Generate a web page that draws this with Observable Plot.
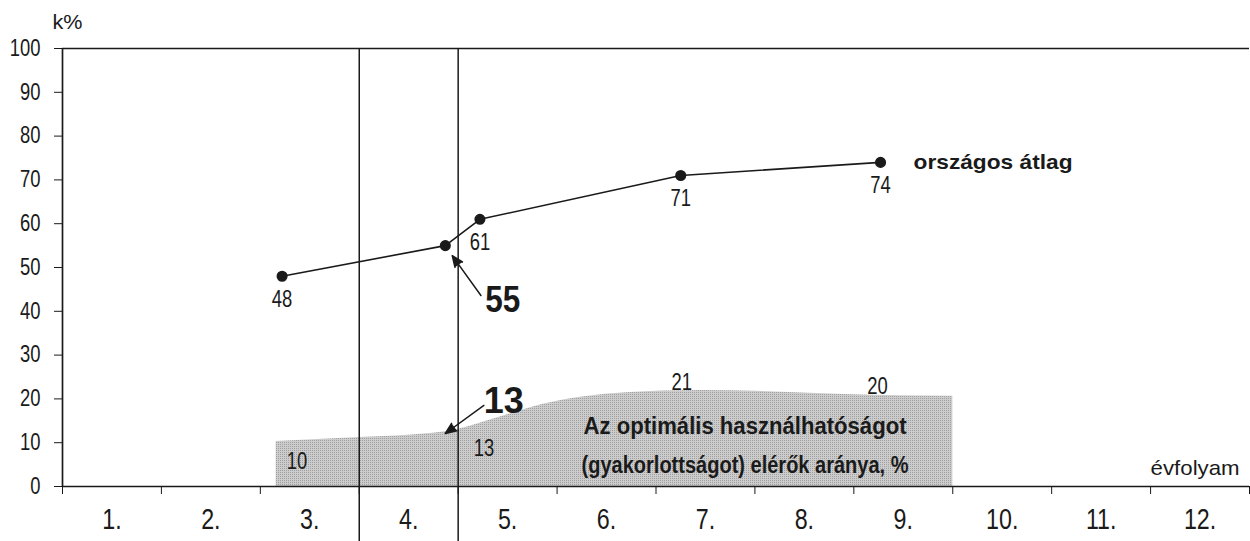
<!DOCTYPE html>
<html><head><meta charset="utf-8">
<script src="https://cdn.jsdelivr.net/npm/d3@7"></script>
<script src="https://cdn.jsdelivr.net/npm/@observablehq/plot@0.6"></script>
<style>body{margin:0;background:#fff} svg{display:block}</style>
</head><body><div id="chart"></div>
<script>
// ---- data ----
const grades = ["1.","2.","3.","4.","5.","6.","7.","8.","9.","10.","11.","12."];
const yTicks = [0,10,20,30,40,50,60,70,80,90,100];
const gradeBounds = [0,1,2,3,4,5,6,7,8,9,10,11,12];
const markerGrades = [3, 4];

// országos átlag (national average)
const avgX = [2.22, 3.87, 4.22, 6.25, 8.27];
const avgY = [48, 55, 61, 71, 74];
const avgLabels = ["48", "", "61", "71", "74"];

// share reaching optimal usability (shaded area)
const areaX = [2.16, 3.0, 3.5, 3.99, 4.4, 4.85, 5.7, 6.45, 7.2, 7.9, 9.0];
const areaY = [10.3, 11.2, 11.7, 13.0, 15.7, 18.7, 21.4, 21.9, 21.6, 21.0, 20.6];
const areaValLabels = ["10", "13", "21", "20"];
const areaValX = [2.37, 4.26, 6.26, 8.24];
const areaValY = [10, 13, 21, 20];
const areaCaption = ["Az optimális használhatóságot", "(gyakorlottságot) elérők aránya, %"];
const areaCaptionY = [13.7, 4.8];

// callouts
const calloutText = ["55", "13"];
const calloutX = [4.45, 4.46];
const calloutY = [42.5, 19.4];
const calloutWidth = [35, 40];
const arrowX1 = [4.23, 4.26], arrowY1 = [43.6, 18.5];
const arrowX2 = [3.94, 3.87], arrowY2 = [52.7, 12.1];

// target rendered widths (px) of a few long labels
const fitWidths = {
  "országos átlag": 159,
  "Az optimális használhatóságot": 323,
  "(gyakorlottságot) elérők aránya, %": 327,
  "évfolyam": 89,
  "k%": 30
};

const FONT = "'Liberation Sans',Arial,sans-serif";
const INK = "#1a1a1a";
const CALLOUT_SIZE = 37;

const idx = a => a.map((_, i) => i);
const areaIdx = idx(areaX);
const avgIdx = idx(avgX);
const gradeCenters = grades.map((_, i) => i + 0.5);

const chart = Plot.plot({
  width: 1250, height: 541,
  marginLeft: 62, marginRight: 1, marginTop: 48, marginBottom: 55,
  style: {fontFamily: FONT, color: INK, background: "#fff", overflow: "visible"},
  x: {domain: [0, 12], axis: null},
  y: {domain: [0, 100], axis: null},
  marks: [
    Plot.areaY(areaIdx, {x: i => areaX[i], y: i => areaY[i], fill: "url(#dots)", curve: "monotone-x"}),
    Plot.ruleY([100], {x1: 0, x2: 12, stroke: INK, strokeWidth: 1.7}),
    Plot.ruleY([0], {x1: 0, x2: 12, stroke: INK, strokeWidth: 1.7}),
    Plot.ruleX([0], {y1: 0, y2: 100, stroke: INK, strokeWidth: 1.7}),
    Plot.ruleX(markerGrades, {y1: 100, y2: -13, stroke: INK, strokeWidth: 1.5}),
    Plot.axisY({ticks: yTicks, tickSize: 8, tickPadding: 14, fontSize: 23, anchor: "left", tickFormat: d => String(d)}),
    Plot.axisX({ticks: gradeBounds, tickSize: 8, tickFormat: () => "", anchor: "bottom"}),
    Plot.axisX({ticks: gradeCenters, tickSize: 0, tickPadding: 22, fontSize: 29, anchor: "bottom",
                tickFormat: d => grades[Math.round(d - 0.5)]}),
    // national average line
    Plot.line(avgIdx, {x: i => avgX[i], y: i => avgY[i], stroke: INK, strokeWidth: 1.6}),
    Plot.dot(avgIdx, {x: i => avgX[i], y: i => avgY[i], r: 4.8, fill: INK, stroke: INK}),
    Plot.text(avgIdx, {x: i => avgX[i], y: i => avgY[i], text: i => avgLabels[i], dy: 23, fontSize: 23, fill: INK}),
    Plot.text([avgX.length - 1], {x: i => avgX[i], y: i => avgY[i], text: () => "országos átlag",
               dx: 33, textAnchor: "start", fontSize: 21, fontWeight: "bold", fill: INK}),
    // area value labels
    Plot.text([0, 1], {x: i => areaValX[i], y: i => areaValY[i], text: i => areaValLabels[i], dy: 19, fontSize: 23, fill: INK}),
    Plot.text([2, 3], {x: i => areaValX[i], y: i => areaValY[i], text: i => areaValLabels[i], dy: -12, fontSize: 23, fill: INK}),
    Plot.text(idx(areaCaption), {x: 6.9, y: i => areaCaptionY[i], text: i => areaCaption[i],
              fontSize: 23, fontWeight: "bold", fill: INK}),
    Plot.text(["évfolyam"], {x: 11.45, y: 4.1, text: d => d, fontSize: 21, fill: INK}),
    Plot.text(["k%"], {x: 0, y: 100, text: d => d, dx: 5, dy: -26, fontSize: 21, fill: INK}),
    // callouts
    Plot.arrow([0, 1], {x1: i => arrowX1[i], y1: i => arrowY1[i], x2: i => arrowX2[i], y2: i => arrowY2[i],
                        stroke: INK, fill: INK, strokeWidth: 1.5, headLength: 12, headAngle: 45, strokeLinejoin: "miter"}),
    Plot.text([0, 1], {x: i => calloutX[i], y: i => calloutY[i], text: i => calloutText[i],
                       fontSize: CALLOUT_SIZE, fontWeight: "bold", fill: INK})
  ]
});

const svg = d3.select(chart);
const defs = svg.insert("defs", ":first-child");
const pat = defs.append("pattern").attr("id", "dots").attr("patternUnits", "userSpaceOnUse")
  .attr("width", 2).attr("height", 2);
pat.append("rect").attr("width", 2).attr("height", 2).attr("fill", "#cccccc");
pat.append("rect").attr("width", 1).attr("height", 1).attr("fill", "#a0a0a0");
svg.selectAll("g[aria-label='arrow'] path").attr("fill", INK);
document.getElementById("chart").appendChild(chart);

// condense the text horizontally, like the narrow face of the original
svg.selectAll("text").each(function () {
  const el = this;
  const s = el.textContent;
  if (!s) return;
  const w = el.getComputedTextLength();
  const size = +(el.getAttribute("font-size") || el.parentNode.getAttribute("font-size"));
  let target = w * 0.8;
  if (fitWidths[s] != null) target = fitWidths[s];
  else if (size === CALLOUT_SIZE && calloutText.includes(s)) target = calloutWidth[calloutText.indexOf(s)];
  el.setAttribute("textLength", target.toFixed(1));
  el.setAttribute("lengthAdjust", "spacingAndGlyphs");
});
</script>
</body></html>
